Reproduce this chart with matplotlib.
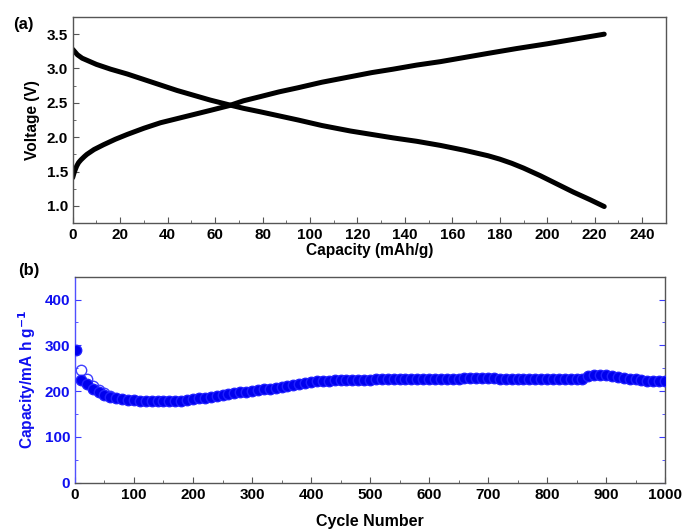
import matplotlib
matplotlib.use("Agg")
import matplotlib.pyplot as plt
from matplotlib.ticker import MultipleLocator

plt.rcParams['font.family'] = ['Liberation Sans', 'DejaVu Sans']
plt.rcParams['font.weight'] = 'bold'

# Panel (a): voltage profiles
dis_cap = [0, 1, 2, 4, 6, 10, 16, 23, 30, 37, 44, 51, 58, 66, 72, 79, 87, 95, 105, 117, 126, 135,
           145, 155, 165, 170, 175, 180, 185, 190, 197, 204, 211, 218, 224]
dis_v = [3.28, 3.24, 3.20, 3.15, 3.12, 3.06, 2.99, 2.92, 2.84, 2.76, 2.68, 2.61, 2.54, 2.47, 2.42, 2.37,
         2.31, 2.25, 2.17, 2.09, 2.04, 1.99, 1.94, 1.88, 1.81, 1.77, 1.73, 1.68, 1.62, 1.55, 1.44,
         1.32, 1.20, 1.09, 0.99]
chg_cap = [0, 0.5, 1, 1.7, 2.5, 3.5, 5, 6, 9, 13, 18, 23, 30, 37, 44, 51, 58, 66, 72, 79, 87, 95,
           105, 117, 126, 135, 145, 155, 165, 175, 187, 200, 212, 224]
chg_v = [1.41, 1.47, 1.52, 1.58, 1.63, 1.67, 1.72, 1.75, 1.82, 1.89, 1.97, 2.04, 2.13, 2.21, 2.27,
         2.33, 2.39, 2.46, 2.53, 2.59, 2.66, 2.72, 2.80, 2.88, 2.94, 2.99, 3.05, 3.10, 3.16, 3.22,
         3.29, 3.36, 3.43, 3.50]

# Panel (b): cycling
cycles = [1] + list(range(10, 1001, 10))
discharge = [290, 225, 215, 204, 198, 192, 188, 185, 183, 181,
             180, 179, 178.5, 178, 178, 178, 178, 178.5, 179, 180,
             182, 184, 186, 188, 190, 192, 194, 195.5, 197, 199,
             200.5, 202, 204, 205.5, 207, 209, 211, 213, 215, 218,
             220, 221.5, 222.5, 223, 223.5, 224, 224, 224.5, 224.5, 225,
             225, 225.5, 225.5, 226, 226, 226.5, 226.5, 226.5, 227, 227,
             227, 227, 227, 227.5, 227.5, 227.5, 228, 228, 228, 228.5,
             228, 228, 227.5, 227.5, 227, 227, 227, 227, 226.5, 226.5,
             226.5, 226.5, 226, 226, 226, 226, 225.5, 232, 235, 236,
             235.5, 233, 231, 229, 227, 225.5, 224, 223, 222.5, 222, 222]
charge_cycles = [10, 20, 30, 40, 50, 60]
charge = [245.5, 226, 212, 202, 195, 190]

fig = plt.figure(figsize=(6.83, 5.31), dpi=100)
spine_c = '#555555'
fs_tick = 11

ax1 = fig.add_axes([0.1064, 0.58, 0.975 - 0.1064, 0.968 - 0.58])
ax1.plot(dis_cap, dis_v, color='black', lw=3.6, solid_capstyle='round', solid_joinstyle='round')
ax1.plot(chg_cap, chg_v, color='black', lw=3.6, solid_capstyle='round', solid_joinstyle='round')
ax1.set_xlim(0, 250)
ax1.set_ylim(0.75, 3.75)
ax1.xaxis.set_minor_locator(MultipleLocator(10))
ax1.yaxis.set_minor_locator(MultipleLocator(0.25))
ax1.set_xticks([0, 20, 40, 60, 80, 100, 120, 140, 160, 180, 200, 220, 240])
ax1.set_yticks([1.0, 1.5, 2.0, 2.5, 3.0, 3.5])
ax1.tick_params(which='both', direction='in', color=spine_c, labelsize=fs_tick)
ax1.tick_params(which='major', length=4)
ax1.tick_params(which='minor', length=2)
for s in ax1.spines.values():
    s.set_color(spine_c)
    s.set_linewidth(1.0)
ax1.set_xlabel('Capacity (mAh/g)', fontsize=11.2, fontweight='bold', labelpad=1)
ax1.set_ylabel('Voltage (V)', fontsize=11.2, fontweight='bold', labelpad=5)
fig.text(0.019, 0.968, '(a)', fontsize=12, fontweight='bold', va='top')

ax2 = fig.add_axes([0.1098, 0.091, 0.9737 - 0.1098, 0.479 - 0.091])
blue = '#1010f0'
ax2.plot(charge_cycles, charge, 'o', ms=7.5, mfc='none', mec='#4040ff', mew=1.0, linestyle='none', zorder=2)
ax2.plot(cycles, discharge, 'o', ms=7.5, color='#0000ee', mec='#2020ff', linestyle='none', zorder=3)
ax2.set_xlim(0, 1000)
ax2.set_ylim(0, 450)
ax2.xaxis.set_major_locator(MultipleLocator(100))
ax2.xaxis.set_minor_locator(MultipleLocator(50))
ax2.yaxis.set_major_locator(MultipleLocator(100))
ax2.yaxis.set_minor_locator(MultipleLocator(50))
ax2.tick_params(which='both', direction='in', color=spine_c, labelsize=fs_tick, right=True)
ax2.tick_params(axis='y', which='both', colors='#3a3aff', labelcolor=blue, labelsize=fs_tick)
ax2.tick_params(which='major', length=4)
ax2.tick_params(which='minor', length=2)
for s in ax2.spines.values():
    s.set_color(spine_c)
    s.set_linewidth(1.0)
ax2.spines['left'].set_color('#5050ff')
ax2.set_xlabel('Cycle Number', fontsize=11.5, fontweight='bold', labelpad=9)
ax2.set_ylabel('Capacity/mA h g$^{\\mathbf{-1}}$', fontsize=11.2, fontweight='bold', color=blue, labelpad=5)
fig.text(0.026, 0.505, '(b)', fontsize=12, fontweight='bold', va='top')

fig.savefig('out.png', dpi=100)
